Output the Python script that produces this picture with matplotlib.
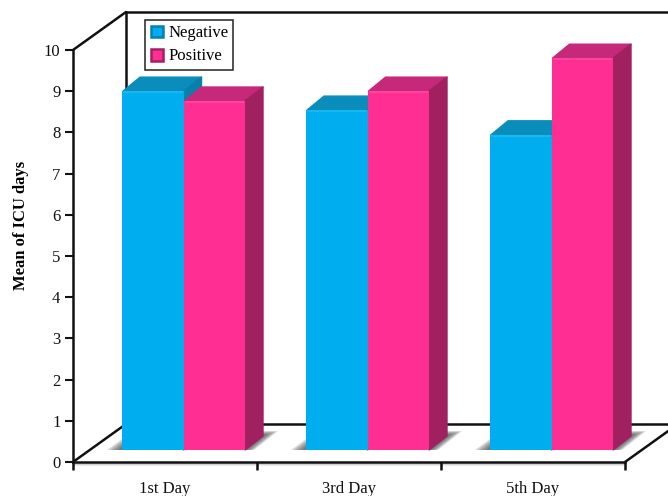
import matplotlib
matplotlib.use('Agg')
import matplotlib.pyplot as plt
from matplotlib.patches import Polygon, Rectangle
from matplotlib.legend_handler import HandlerBase

categories = ['1st Day', '3rd Day', '5th Day']
negative = [8.71, 8.25, 7.65]
positive = [8.47, 8.71, 9.51]
y_ticks = list(range(0, 11))

NEG = {'front': '#00AEEF', 'top': '#0A8DBB', 'side': '#0781AC', 'edge': '#1FB9F2'}
POS = {'front': '#FF2E93', 'top': '#C6287A', 'side': '#A02060', 'edge': '#FF48A2'}

plt.rcParams['font.family'] = ['Liberation Serif', 'DejaVu Serif']

W, H = 668, 496
fig = plt.figure(figsize=(W / 100, H / 100), dpi=100)
# axes frame is the front face of the 3D box
ax = fig.add_axes([73 / W, 1 - 462 / H, 552 / W, 412 / H])
ax.set_xlim(-0.5, 2.5)
ax.set_ylim(0, 10)

# pixels to data units
px = 1 / 184
py = 1 / 41.2

depth_x, depth_y = 53 * px, 38 * py
box_top = 10


def line(xs, ys, lw=1.8, z=1):
    ax.plot(xs, ys, color='#111111', lw=lw, clip_on=False, zorder=z, solid_capstyle='round')


# back wall and floor
line([-0.5, -0.5 + depth_x], [box_top, box_top + depth_y])
line([-0.5 + depth_x, -0.5 + depth_x], [depth_y, box_top + depth_y])
line([-0.5 + depth_x, 2.5 + depth_x + 0.1], [box_top + depth_y] * 2)
line([-0.5 + depth_x, 2.5 + depth_x + 0.1], [depth_y] * 2)
line([-0.5, -0.5 + depth_x], [0, depth_y])
line([2.5, 2.5 + depth_x], [0, depth_y])

# soft grey under the front edge of the floor
for k in range(4):
    ax.plot([-0.5, 2.5], [-(k + 1) * py * 0.8] * 2, color='#888888', lw=1, alpha=0.25 - k * 0.05,
            clip_on=False, zorder=1)

bar_w = 61.5 * px
base = 12 * py
bar_dx, bar_dy = 18 * px, 14 * py
group_shift = -43 * px


def draw_floor_shadow(x0, x1):
    # soft shadow on the floor, built from stacked transparent layers
    for step in range(8):
        spread = (15 - step * 2) * px
        far = base + (19 - step * 0.6) * py
        poly = Polygon([(x0 - spread, base), (x0 + bar_dx - spread * 0.5, far),
                        (x1 + bar_dx + spread, far), (x1 + spread * 0.6, base)],
                       closed=True, fc='#444444', ec='none', alpha=0.17, zorder=2, clip_on=False)
        ax.add_patch(poly)


def draw_bar(x0, value, c, z):
    x1 = x0 + bar_w
    top = base + value
    ax.bar(x0, value, width=bar_w, bottom=base, align='edge', color=c['front'],
           zorder=z + 2, clip_on=False, linewidth=0)
    ax.add_patch(Polygon([(x0 + 1 * px, top), (x0 + bar_dx, top + bar_dy), (x1 + bar_dx, top + bar_dy), (x1, top)],
                         closed=True, fc=c['top'], ec=c['top'], lw=1.0, joinstyle='round', zorder=z + 1, clip_on=False))
    ax.add_patch(Polygon([(x1, top), (x1 + bar_dx, top + bar_dy), (x1 + bar_dx, base + bar_dy), (x1, base)],
                         closed=True, fc=c['side'], ec=c['side'], lw=1.0, joinstyle='round', zorder=z + 1, clip_on=False))
    # lighter rim along the top of the front face
    ax.plot([x0 + 2 * px, x1 - 2 * px], [top - 1 * py, top - 1 * py], color=c['edge'], lw=1.2,
            zorder=z + 3, clip_on=False)


for i in range(len(categories)):
    x0 = i + group_shift
    draw_floor_shadow(x0, x0 + 2 * bar_w)
    # positive sits in front of the negative bar's side face
    draw_bar(x0, negative[i], NEG, 4)
    draw_bar(x0 + bar_w, positive[i], POS, 8)

# front axes
for s in ['top', 'right']:
    ax.spines[s].set_visible(False)
for s in ['left', 'bottom']:
    ax.spines[s].set_linewidth(1.8)
    ax.spines[s].set_color('#111111')
    ax.spines[s].set_zorder(3)
ax.patch.set_alpha(0)
ax.set_yticks(y_ticks)
ax.set_xticks([-0.5, 0.5, 1.5, 2.5])
ax.set_xticklabels([])
ax.set_xticks([0, 1, 2], labels=categories, minor=True)
ax.tick_params(axis='y', length=6, width=1.5, labelsize=12, pad=3, colors='#111111')
ax.tick_params(axis='x', which='major', length=6, width=1.8, color='#111111')
ax.tick_params(axis='x', which='minor', length=0, labelsize=12, pad=14, colors='#111111')
ax.set_ylabel('Mean of ICU days', fontsize=12, fontweight='bold')
ax.yaxis.set_label_coords((29 - 73) / 552, (462 - 225) / 412)


class CubeHandler(HandlerBase):
    def create_artists(self, legend, orig, x0, y0, width, height, fontsize, trans):
        c = NEG if orig.get_gid() == 'neg' else POS
        r = Rectangle((x0 + 1, y0), 8, 8, fc=c['front'], ec=c['side'], lw=1.8, transform=trans)
        return [r]


h1 = Rectangle((0, 0), 1, 1, gid='neg')
h2 = Rectangle((0, 0), 1, 1, gid='pos')
leg = ax.legend([h1, h2], ['Negative', 'Positive'], handler_map={Rectangle: CubeHandler()},
                loc='upper left', bbox_to_anchor=((145 - 73) / 552, (462 - 20) / 412), borderaxespad=0,
                fontsize=12, frameon=True, fancybox=False, framealpha=1, edgecolor='#222222',
                borderpad=0.3, labelspacing=0.45, handlelength=0.85, handletextpad=0.25)
leg.get_frame().set_linewidth(1.1)
leg.set_zorder(20)

fig.savefig('out.png', dpi=100)
